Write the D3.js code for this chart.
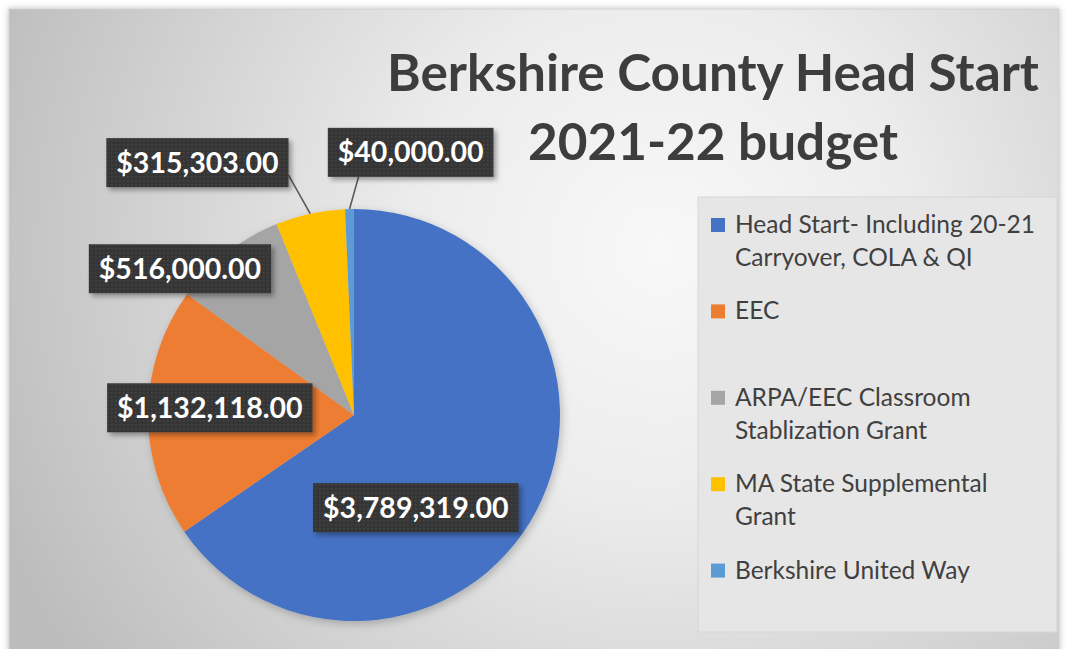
<!DOCTYPE html>
<html>
<head>
<meta charset="utf-8">
<script src="https://cdn.jsdelivr.net/npm/d3@7"></script>
<style>
  html, body { margin: 0; padding: 0; background: #ffffff; }
  svg { display: block; }
</style>
</head>
<body>
<svg id="chart" width="1065" height="649"></svg>
<script>
// ---- data ----
const titleLines = ["Berkshire County Head Start", "2021-22 budget"];
const categories = [
  "Head Start- Including 20-21 Carryover, COLA & QI",
  "EEC",
  "ARPA/EEC Classroom Stablization Grant",
  "MA State Supplemental Grant",
  "Berkshire United Way"
];
const legendLines = [
  ["Head Start- Including 20-21", "Carryover, COLA & QI"],
  ["EEC"],
  ["ARPA/EEC Classroom", "Stablization Grant"],
  ["MA State Supplemental", "Grant"],
  ["Berkshire United Way"]
];
const values = [3789319, 1132118, 516000, 315303, 40000];
const colors = ["#4472C4", "#ED7D31", "#A5A5A5", "#FFC000", "#5B9BD5"];

// ---- layout ----
const W = 1065, H = 649;
const cx = 354, cy = 415, R = 206;
// label box centres relative to pie centre, in units of radius (layout only)
const labelOffsets = [[0.30, 0.45], [-0.70, -0.035], [-0.845, -0.71], [-0.76, -1.225], [0.275, -1.275]];
const leaderFor = [false, false, false, true, true];

const svg = d3.select("#chart");
const defs = svg.append("defs");

const bg = defs.append("radialGradient").attr("id", "bgGrad")
  .attr("gradientUnits", "userSpaceOnUse")
  .attr("cx", 660).attr("cy", 250).attr("r", 720);
bg.append("stop").attr("offset", "0%").attr("stop-color", "#f8f8f8");
bg.append("stop").attr("offset", "35%").attr("stop-color", "#ececec");
bg.append("stop").attr("offset", "100%").attr("stop-color", "#bcbcbc");

const sh = defs.append("filter").attr("id", "boxShadow")
  .attr("x", "-20%").attr("y", "-30%").attr("width", "150%").attr("height", "180%");
sh.append("feDropShadow").attr("dx", 3).attr("dy", 3).attr("stdDeviation", 2.5)
  .attr("flood-color", "#000").attr("flood-opacity", 0.35);

const psh = defs.append("filter").attr("id", "pieShadow")
  .attr("x", "-10%").attr("y", "-10%").attr("width", "125%").attr("height", "125%");
psh.append("feDropShadow").attr("dx", 2).attr("dy", 3).attr("stdDeviation", 4)
  .attr("flood-color", "#000").attr("flood-opacity", 0.22);

const pat = defs.append("pattern").attr("id", "dots").attr("patternUnits", "userSpaceOnUse")
  .attr("width", 4).attr("height", 4);
pat.append("rect").attr("width", 4).attr("height", 4).attr("fill", "#363636");
pat.append("rect").attr("x", 1).attr("y", 1).attr("width", 1.5).attr("height", 1.5).attr("fill", "#454545");

const fsh = defs.append("filter").attr("id", "frameShadow")
  .attr("x", "-2%").attr("y", "-2%").attr("width", "104%").attr("height", "104%");
fsh.append("feDropShadow").attr("dx", 0).attr("dy", 0).attr("stdDeviation", 3)
  .attr("flood-color", "#000").attr("flood-opacity", 0.25);

// chart area
svg.append("rect").attr("x", 9).attr("y", 9).attr("width", 1050).attr("height", 660)
  .attr("fill", "url(#bgGrad)").attr("stroke", "#cfcfcf").attr("stroke-width", 1)
  .attr("filter", "url(#frameShadow)");

// title
const titleG = svg.append("g");
const tFont = "Lato, 'Open Sans', sans-serif";
const t1 = titleG.append("text").text(titleLines[0])
  .attr("font-family", tFont).attr("font-weight", 700).attr("font-size", 50)
  .attr("fill", "#3d3d3d").attr("text-anchor", "middle");
const len = t1.node().getComputedTextLength();
const tSize = 50 * 652 / len;
t1.attr("font-size", tSize).attr("x", 713).attr("y", 91);
titleG.append("text").text(titleLines[1])
  .attr("font-family", tFont).attr("font-weight", 700).attr("font-size", tSize)
  .attr("fill", "#3d3d3d").attr("text-anchor", "middle")
  .attr("x", 713).attr("y", 160);

// pie
const pie = d3.pie().sort(null).value(d => d);
const arcs = pie(values);
const arc = d3.arc().innerRadius(0).outerRadius(R);
const edgeArc = d3.arc().innerRadius(R).outerRadius(R);

const pieG = svg.append("g").attr("transform", `translate(${cx},${cy})`);
pieG.append("g").attr("filter", "url(#pieShadow)")
  .selectAll("path").data(arcs).join("path")
  .attr("d", arc).attr("fill", (d, i) => colors[i]);

// labels
const fmt = d3.format("$,.2f");
const labG = pieG.append("g");
arcs.forEach((a, i) => {
  const bx = labelOffsets[i][0] * R, by = labelOffsets[i][1] * R;
  const g = labG.append("g");
  const txt = g.append("text").text(fmt(values[i]))
    .attr("font-family", tFont).attr("font-weight", 700).attr("font-size", 28.5)
    .attr("fill", "#ffffff").attr("text-anchor", "middle")
    .attr("x", bx).attr("y", by + 10);
  const tw = txt.node().getComputedTextLength();
  const bw = tw + 20, bh = 49;
  const x0 = bx - bw / 2, y0 = by - bh / 2;
  if (leaderFor[i]) {
    const [ex, ey] = edgeArc.centroid(a);
    let sx = Math.max(x0, Math.min(x0 + bw, ex));
    let sy = Math.max(y0, Math.min(y0 + bh, ey));
    if (ex > x0 + bw) sy = Math.min(sy, y0 + bh - 12);
    else if (ey > y0 + bh) sx = Math.min(x0 + bw, sx + 9);
    labG.insert("line", ":first-child")
      .attr("x1", sx).attr("y1", sy).attr("x2", ex).attr("y2", ey)
      .attr("stroke", "#595959").attr("stroke-width", 1.6);
  }
  g.insert("rect", "text").attr("x", x0).attr("y", y0).attr("width", bw).attr("height", bh)
    .attr("fill", "url(#dots)").attr("filter", "url(#boxShadow)");
});

// legend
const lg = svg.append("g");
lg.append("rect").attr("x", 698).attr("y", 197).attr("width", 359).attr("height", 435)
  .attr("fill", "#e6e6e6").attr("stroke", "#d6d6d6").attr("stroke-width", 1);
const legFont = "Lato, 'Open Sans', sans-serif";
legendLines.forEach((lines, i) => {
  const yc = 225 + i * 86.4;
  lg.append("rect").attr("x", 711).attr("y", yc - 7).attr("width", 14).attr("height", 14)
    .attr("fill", colors[i]);
  lines.forEach((ln, j) => {
    lg.append("text").text(ln)
      .attr("x", 735).attr("y", yc + 8 + j * 33)
      .attr("font-family", legFont).attr("font-size", 24.5)
      .attr("fill", "#404040");
  });
});
</script>
</body>
</html>
